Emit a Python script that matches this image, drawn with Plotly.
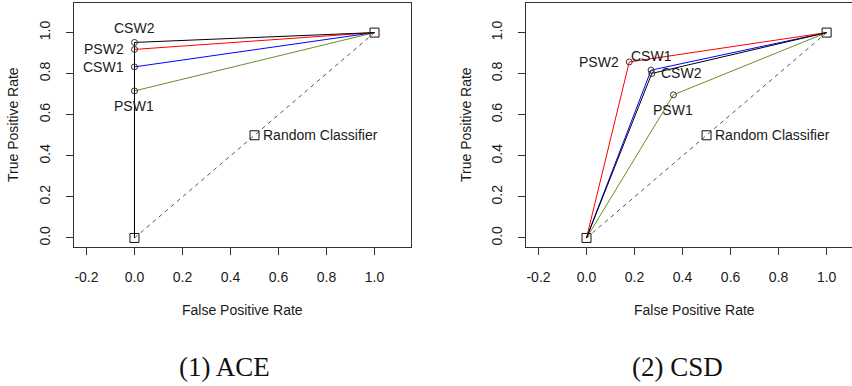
import plotly.graph_objects as go

# ---------------- data ----------------
classifiers = ["CSW2", "PSW2", "CSW1", "PSW1"]
line_colors = ["black", "red", "blue", "olivedrab"]

ace_fpr = [0.0, 0.0, 0.0, 0.0]
ace_tpr = [0.952, 0.918, 0.833, 0.716]

csd_fpr = [0.272, 0.178, 0.269, 0.362]
csd_tpr = [0.801, 0.857, 0.817, 0.697]

random_fpr = [0.0, 0.5, 1.0]
random_tpr = [0.0, 0.5, 1.0]

x_tick_vals = [-0.2, 0.0, 0.2, 0.4, 0.6, 0.8, 1.0]
x_tick_labels = ["-0.2", "0.0", "0.2", "0.4", "0.6", "0.8", "1.0"]
y_tick_vals = [0.0, 0.2, 0.4, 0.6, 0.8, 1.0]
y_tick_labels = ["0.0", "0.2", "0.4", "0.6", "0.8", "1.0"]

panel_titles = ["(1) ACE", "(2) CSD"]
x_title = "False Positive Rate"
y_title = "True Positive Rate"
random_label = "Random Classifier"

# label placement (R-style pos: 1 below, 2 left, 3 above, 4 right)
ace_label_pos = [3, 2, 2, 1]
csd_label_pos = [4, 2, 3, 1]

# ---------------- figure ----------------
fig = go.Figure()
TXT = "#1a1a1a"
FONT = "Liberation Sans, Arial, sans-serif"
draw_order = [3, 2, 1, 0]

panels = [("x", "y", ace_fpr, ace_tpr, ace_label_pos),
          ("x2", "y2", csd_fpr, csd_tpr, csd_label_pos)]

for xa, ya, fpr, tpr, lpos in panels:
    # random classifier diagonal
    fig.add_trace(go.Scatter(x=random_fpr, y=random_tpr, xaxis=xa, yaxis=ya,
                             mode="lines", line=dict(color="#555555", width=1, dash="4px,4px"),
                             hoverinfo="skip", showlegend=False))
    for i in draw_order:
        fig.add_trace(go.Scatter(x=[0.0, fpr[i], 1.0], y=[0.0, tpr[i], 1.0],
                                 xaxis=xa, yaxis=ya, mode="lines",
                                 line=dict(color=line_colors[i], width=1),
                                 name=classifiers[i], showlegend=False))
    fig.add_trace(go.Scatter(x=fpr, y=tpr, xaxis=xa, yaxis=ya, mode="markers",
                             marker=dict(symbol="circle-open", size=6,
                                         color="#333333", line=dict(width=1)),
                             showlegend=False, hoverinfo="skip"))
    fig.add_trace(go.Scatter(x=random_fpr, y=random_tpr, xaxis=xa, yaxis=ya, mode="markers",
                             marker=dict(symbol="square-open", size=9,
                                         color="#111111", line=dict(width=1)),
                             showlegend=False, hoverinfo="skip"))
    for i, name in enumerate(classifiers):
        p = lpos[i]
        kw = dict(x=fpr[i], y=tpr[i], xref=xa, yref=ya, text=name, showarrow=False,
                  font=dict(family=FONT, size=14, color=TXT))
        if p == 1:
            kw.update(xanchor="center", yanchor="middle", yshift=-15)
        elif p == 2:
            kw.update(xanchor="right", yanchor="middle", xshift=-8)
        elif p == 3:
            kw.update(xanchor="center", yanchor="middle", yshift=14)
        else:
            kw.update(xanchor="left", yanchor="middle", xshift=7)
        fig.add_annotation(**kw)
    fig.add_annotation(x=random_fpr[1], y=random_tpr[1], xref=xa, yref=ya,
                       text=random_label, showarrow=False, xanchor="left",
                       yanchor="middle", xshift=6,
                       font=dict(family=FONT, size=14, color=TXT))

W, H = 852, 386
axis_common = dict(showgrid=False, zeroline=False, showline=True, linecolor="#333333",
                   linewidth=1, ticks="outside", ticklen=7, tickcolor="#333333",
                   tickfont=dict(family=FONT, size=14, color=TXT))

fig.update_layout(
    width=W, height=H, margin=dict(l=0, r=0, t=3, b=139),
    paper_bgcolor="white", plot_bgcolor="white",
    xaxis=dict(domain=[74 / W, 411 / W], range=[-0.252, 1.152],
               tickvals=x_tick_vals, ticktext=x_tick_labels, mirror=True,
               ticklabelstandoff=10, **axis_common),
    yaxis=dict(domain=[0, 1], range=[-0.044, 1.144], anchor="x",
               tickvals=y_tick_vals, ticktext=y_tick_labels, tickangle=-90,
               mirror=True, ticklabelstandoff=10, **axis_common),
    xaxis2=dict(domain=[526 / W, 1.0], range=[-0.252, 1.1057], anchor="y2",
                tickvals=x_tick_vals, ticktext=x_tick_labels, mirror=True,
                ticklabelstandoff=10, **axis_common),
    yaxis2=dict(domain=[0, 1], range=[-0.044, 1.144], anchor="x2",
                tickvals=y_tick_vals, ticktext=y_tick_labels, tickangle=-90,
                mirror=False, ticklabelstandoff=10, **axis_common),
)

plot_h = H - 3 - 139
def py(pix):
    return (H - 139 - pix) / plot_h

# axis titles
for xa, ycx in [("x", 13), ("x2", 466)]:
    fig.add_annotation(x=0.45, xref=xa, y=py(310), yref="paper", text=x_title,
                       showarrow=False, xanchor="center", yanchor="middle",
                       font=dict(family=FONT, size=14, color=TXT))
    fig.add_annotation(x=ycx / W, xref="paper", y=py(125), yref="paper", text=y_title,
                       showarrow=False, xanchor="center", yanchor="middle", textangle=-90,
                       font=dict(family=FONT, size=14, color=TXT))

# panel captions
for cx, t in zip([225, 677], panel_titles):
    fig.add_annotation(x=cx / W, xref="paper", y=py(367), yref="paper", text=t,
                       showarrow=False, xanchor="center", yanchor="middle",
                       font=dict(family="Liberation Serif, Times New Roman, serif",
                                 size=27, color="#111111"))

fig.write_html("out.html", config={"displayModeBar": False},
               post_script="document.body.style.margin='0';document.body.style.padding='0';")
